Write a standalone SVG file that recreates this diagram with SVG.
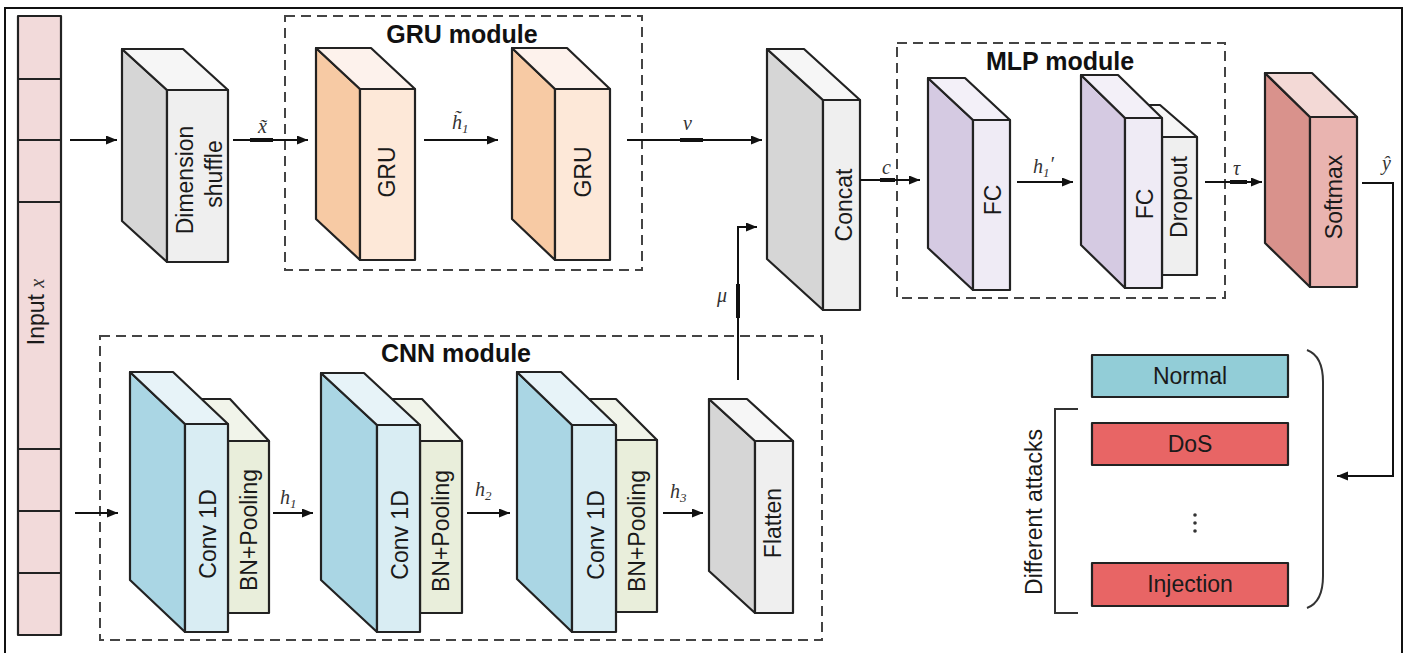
<svg xmlns="http://www.w3.org/2000/svg" width="1408" height="653" viewBox="0 0 1408 653">
  <defs>
    <marker id="arrow" markerUnits="userSpaceOnUse" markerWidth="12" markerHeight="10" refX="11" refY="4.5" orient="auto">
      <path d="M0,0 L11,4.5 L0,9 z" fill="#111"/>
    </marker>
    <style>
      .edge { stroke: #222; stroke-width: 2.2; stroke-linejoin: round; }
      .wire { fill: none; stroke: #111; stroke-width: 2; }
      .thick { stroke: #111; stroke-width: 4; }
      .dash { fill: none; stroke: #444; stroke-width: 2; stroke-dasharray: 10 6; }
      .lbl { font-family: "Liberation Sans", Arial, sans-serif; font-size: 23px; fill: #1a1a1a; }
      .title { font-family: "Liberation Sans", Arial, sans-serif; font-size: 25px; font-weight: bold; fill: #111; text-anchor: middle; }
      .math { font-family: "Liberation Serif", "Times New Roman", serif; font-style: italic; font-size: 20px; fill: #333; }
      .sub { font-size: 13px; }
      .gray-s { fill: #d6d6d6; } .gray-f { fill: #efefef; } .gray-t { fill: #f6f6f6; }
      .gru-s { fill: #f7caa4; } .gru-f { fill: #fde8d8; } .gru-t { fill: #fdf2ec; }
      .cnv-s { fill: #aad6e4; } .cnv-f { fill: #d9edf3; } .cnv-t { fill: #e7f3f8; }
      .bn-f { fill: #e9eedb; } .bn-t { fill: #f1f4ea; }
      .fc-s { fill: #d5cae2; } .fc-f { fill: #efebf5; } .fc-t { fill: #f3f0f8; }
      .sm-s { fill: #d9928c; } .sm-f { fill: #e9b4b0; } .sm-t { fill: #f3d9d6; }
    </style>
  </defs>

  <rect x="0" y="0" width="1408" height="653" fill="#ffffff"/>
  <!-- outer frame -->
  <rect x="5" y="8" width="1397" height="660" fill="none" stroke="#111" stroke-width="2"/>

  <!-- module frames -->
  <g id="gru-module">
    <rect class="dash" x="285" y="16" width="357" height="254"/>
    <text class="title" x="462" y="43">GRU module</text>
  </g>
  <g id="mlp-module">
    <rect class="dash" x="897" y="43" width="328" height="255"/>
    <text class="title" x="1060" y="70">MLP module</text>
  </g>
  <g id="cnn-module">
    <rect class="dash" x="100" y="336" width="722" height="304"/>
    <text class="title" x="456" y="362">CNN module</text>
  </g>

  <!-- input vector -->
  <g id="input">
    <rect class="edge" x="18" y="16" width="43" height="619" fill="#f2dada"/>
    <line class="edge" x1="18" y1="79" x2="61" y2="79"/>
    <line class="edge" x1="18" y1="140" x2="61" y2="140"/>
    <line class="edge" x1="18" y1="202" x2="61" y2="202"/>
    <line class="edge" x1="18" y1="449" x2="61" y2="449"/>
    <line class="edge" x1="18" y1="511" x2="61" y2="511"/>
    <line class="edge" x1="18" y1="573" x2="61" y2="573"/>
    <text class="lbl" transform="translate(44,312) rotate(-90)" text-anchor="middle">Input <tspan class="math" style="font-size:20px">x</tspan></text>
  </g>

  <!-- Dimension shuffle -->
  <g id="dim-shuffle">
    <polygon class="edge gray-s" points="122,49 167,90 167,262 122,221"/>
    <polygon class="edge gray-t" points="122,49 183,49 228,90 167,90"/>
    <rect class="edge gray-f" x="167" y="90" width="61" height="172"/>
    <text class="lbl" transform="translate(193,180) rotate(-90)" text-anchor="middle">Dimension</text>
    <text class="lbl" transform="translate(222,174) rotate(-90)" text-anchor="middle">shuffle</text>
  </g>

  <!-- GRU layers -->
  <g id="gru1">
    <polygon class="edge gru-s" points="316,48 360,89 360,260 316,219"/>
    <polygon class="edge gru-t" points="316,48 371,48 415,89 360,89"/>
    <rect class="edge gru-f" x="360" y="89" width="55" height="171"/>
    <text class="lbl" transform="translate(395,172) rotate(-90)" text-anchor="middle">GRU</text>
  </g>
  <g id="gru2">
    <polygon class="edge gru-s" points="512,48 555,89 555,260 512,219"/>
    <polygon class="edge gru-t" points="512,48 567,48 610,89 555,89"/>
    <rect class="edge gru-f" x="555" y="89" width="55" height="171"/>
    <text class="lbl" transform="translate(591,172) rotate(-90)" text-anchor="middle">GRU</text>
  </g>

  <!-- Concat -->
  <g id="concat">
    <polygon class="edge gray-s" points="767,49 823,100 823,310 767,259"/>
    <polygon class="edge gray-t" points="767,49 804,49 860,100 823,100"/>
    <rect class="edge gray-f" x="823" y="100" width="37" height="210"/>
    <text class="lbl" transform="translate(852,205) rotate(-90)" text-anchor="middle">Concat</text>
  </g>

  <!-- MLP layers -->
  <g id="fc1">
    <polygon class="edge fc-s" points="928,78 973,120 973,290 928,248"/>
    <polygon class="edge fc-t" points="928,78 965,78 1010,120 973,120"/>
    <rect class="edge fc-f" x="973" y="120" width="37" height="170"/>
    <text class="lbl" transform="translate(1001,200) rotate(-90)" text-anchor="middle">FC</text>
  </g>
  <g id="fc2-dropout">
    <polygon class="edge gray-t" points="1125,105 1160,105 1197,137 1162,137"/>
    <rect class="edge gray-f" x="1162" y="137" width="35" height="138"/>
    <polygon class="edge fc-s" points="1081,75 1125,118 1125,288 1081,245"/>
    <polygon class="edge fc-t" points="1081,75 1118,75 1162,118 1125,118"/>
    <rect class="edge fc-f" x="1125" y="118" width="37" height="170"/>
    <text class="lbl" transform="translate(1153,204) rotate(-90)" text-anchor="middle">FC</text>
    <text class="lbl" transform="translate(1187,197) rotate(-90)" text-anchor="middle">Dropout</text>
  </g>

  <!-- Softmax -->
  <g id="softmax">
    <polygon class="edge sm-s" points="1265,73 1310,117 1310,287 1265,243"/>
    <polygon class="edge sm-t" points="1265,73 1312,73 1357,117 1310,117"/>
    <rect class="edge sm-f" x="1310" y="117" width="47" height="170"/>
    <text class="lbl" transform="translate(1342,197) rotate(-90)" text-anchor="middle">Softmax</text>
  </g>

  <!-- CNN layers -->
  <g id="conv1">
    <polygon class="edge bn-t" points="189,399 230,399 269,441 228,441"/>
    <rect class="edge bn-f" x="228" y="441" width="41" height="172"/>
    <polygon class="edge cnv-s" points="130,372 185,424 185,632 130,580"/>
    <polygon class="edge cnv-t" points="130,372 173,372 228,424 185,424"/>
    <rect class="edge cnv-f" x="185" y="424" width="43" height="208"/>
    <text class="lbl" transform="translate(216,534) rotate(-90)" text-anchor="middle">Conv 1D</text>
    <text class="lbl" transform="translate(257,530) rotate(-90)" text-anchor="middle">BN+Pooling</text>
  </g>
  <g id="conv2">
    <polygon class="edge bn-t" points="381,399 422,399 462,441 420,441"/>
    <rect class="edge bn-f" x="420" y="441" width="42" height="172"/>
    <polygon class="edge cnv-s" points="321,373 377,425 377,632 321,580"/>
    <polygon class="edge cnv-t" points="321,373 364,373 420,425 377,425"/>
    <rect class="edge cnv-f" x="377" y="425" width="43" height="207"/>
    <text class="lbl" transform="translate(408,535) rotate(-90)" text-anchor="middle">Conv 1D</text>
    <text class="lbl" transform="translate(449,531) rotate(-90)" text-anchor="middle">BN+Pooling</text>
  </g>
  <g id="conv3">
    <polygon class="edge bn-t" points="576,399 616,399 657,440 616,440"/>
    <rect class="edge bn-f" x="616" y="440" width="41" height="172"/>
    <polygon class="edge cnv-s" points="517,372 572,425 572,632 517,579"/>
    <polygon class="edge cnv-t" points="517,372 561,372 616,425 572,425"/>
    <rect class="edge cnv-f" x="572" y="425" width="44" height="207"/>
    <text class="lbl" transform="translate(604,535) rotate(-90)" text-anchor="middle">Conv 1D</text>
    <text class="lbl" transform="translate(645,531) rotate(-90)" text-anchor="middle">BN+Pooling</text>
  </g>

  <!-- Flatten -->
  <g id="flatten">
    <polygon class="edge gray-s" points="709,399 755,441 755,613 709,571"/>
    <polygon class="edge gray-t" points="709,399 747,399 793,441 755,441"/>
    <rect class="edge gray-f" x="755" y="441" width="38" height="172"/>
    <text class="lbl" transform="translate(781,523) rotate(-90)" text-anchor="middle">Flatten</text>
  </g>

  <!-- output classes -->
  <g id="classes">
    <rect class="edge" x="1092" y="355" width="196" height="42" fill="#92cdd7"/>
    <text class="lbl" x="1190" y="384" text-anchor="middle">Normal</text>
    <rect class="edge" x="1092" y="423" width="196" height="42" fill="#e86565"/>
    <text class="lbl" x="1190" y="452" text-anchor="middle">DoS</text>
    <circle cx="1195" cy="515" r="1.8" fill="#333"/>
    <circle cx="1195" cy="523" r="1.8" fill="#333"/>
    <circle cx="1195" cy="531" r="1.8" fill="#333"/>
    <rect class="edge" x="1092" y="563" width="196" height="43" fill="#e86565"/>
    <text class="lbl" x="1190" y="592" text-anchor="middle">Injection</text>
    <path d="M1078,409 H1055 V613 H1078" fill="none" stroke="#333" stroke-width="2"/>
    <text class="lbl" transform="translate(1042,512) rotate(-90)" text-anchor="middle">Different attacks</text>
    <path d="M1307,350 Q1323,356 1323,382 L1323,576 Q1323,602 1307,608" fill="none" stroke="#333" stroke-width="2"/>
  </g>

  <!-- connectors -->
  <g id="connectors">
    <line class="wire" x1="70" y1="140" x2="117" y2="140" marker-end="url(#arrow)"/>
    <line class="wire" x1="233" y1="140" x2="308" y2="140" marker-end="url(#arrow)"/>
    <line class="thick" x1="250" y1="140" x2="273" y2="140"/>
    <line class="wire" x1="424" y1="140" x2="498" y2="140" marker-end="url(#arrow)"/>
    <line class="wire" x1="627" y1="140" x2="762" y2="140" marker-end="url(#arrow)"/>
    <line class="thick" x1="680" y1="140" x2="703" y2="140"/>
    <path class="wire" d="M738,380 V227 H757" marker-end="url(#arrow)"/>
    <line class="thick" x1="738" y1="284" x2="738" y2="318"/>
    <line class="wire" x1="860" y1="180" x2="920" y2="180" marker-end="url(#arrow)"/>
    <line class="thick" x1="880" y1="180" x2="895" y2="180"/>
    <line class="wire" x1="1017" y1="182" x2="1073" y2="182" marker-end="url(#arrow)"/>
    <line class="wire" x1="1205" y1="182" x2="1262" y2="182" marker-end="url(#arrow)"/>
    <line class="thick" x1="1230" y1="182" x2="1247" y2="182"/>
    <path class="wire" d="M1362,183 H1393 V476 H1337" marker-end="url(#arrow)"/>
    <line class="wire" x1="75" y1="513" x2="118" y2="513" marker-end="url(#arrow)"/>
    <line class="wire" x1="273" y1="513" x2="313" y2="513" marker-end="url(#arrow)"/>
    <line class="wire" x1="467" y1="513" x2="510" y2="513" marker-end="url(#arrow)"/>
    <line class="wire" x1="663" y1="513" x2="703" y2="513" marker-end="url(#arrow)"/>

    <!-- edge variables -->
    <text class="math" x="258" y="133">x̃</text>
    <text class="math" x="452" y="129">h̃<tspan class="sub" dy="4">1</tspan></text>
    <text class="math" x="683" y="130">ν</text>
    <text class="math" x="882" y="174">c</text>
    <text class="math" x="1033" y="173">h<tspan class="sub" dy="4">1</tspan><tspan dy="-6">′</tspan></text>
    <text class="math" x="1233" y="175">τ</text>
    <text class="math" x="1382" y="170">ŷ</text>
    <text class="math" x="717" y="302">μ</text>
    <text class="math" x="280" y="504">h<tspan class="sub" dy="4">1</tspan></text>
    <text class="math" x="475" y="496">h<tspan class="sub" dy="4">2</tspan></text>
    <text class="math" x="670" y="498">h<tspan class="sub" dy="4">3</tspan></text>
  </g>
</svg>
